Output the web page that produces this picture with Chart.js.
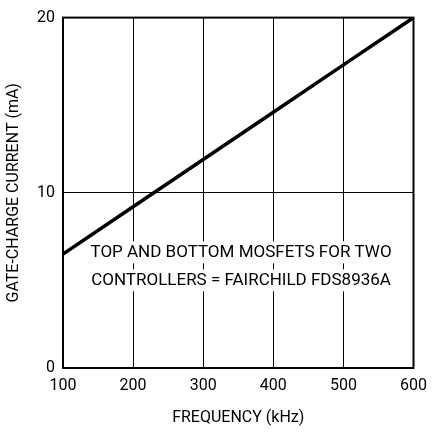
<!DOCTYPE html>
<html><head><meta charset="utf-8">
<script src="https://cdn.jsdelivr.net/npm/chart.js@4"></script>
<style>html,body{margin:0;padding:0;background:#fff}#wrap{width:435px;height:432px}</style>
</head><body><div id="wrap"><canvas id="c"></canvas></div>
<script>
const freqs = [100, 200, 300, 400, 500, 600];
const current = [6.5, 9.2, 11.9, 14.6, 17.3, 20];
const noteLines = ['TOP AND BOTTOM MOSFETS FOR TWO', 'CONTROLLERS = FAIRCHILD FDS8936A'];

const font = {family: 'Roboto, "Liberation Sans", sans-serif', size: 16};

const notePlugin = {
  id: 'note',
  afterDraw(chart) {
    const ctx = chart.ctx, x = chart.scales.x, y = chart.scales.y;
    ctx.save();
    ctx.font = '17px Roboto, "Liberation Sans", sans-serif';
    ctx.textBaseline = 'middle';
    ctx.textAlign = 'center';
    const cx = (x.getPixelForValue(112) + x.getPixelForValue(596)) / 2;
    const rows = [y.getPixelForValue(6.6), y.getPixelForValue(5.0)];
    noteLines.forEach((t, i) => {
      const w = ctx.measureText(t).width;
      ctx.fillStyle = '#fff';
      ctx.fillRect(cx - w / 2 - 3, rows[i] - 11, w + 6, 22);
      ctx.fillStyle = '#000';
      ctx.fillText(t, cx, rows[i]);
    });
    ctx.restore();
  }
};

new Chart(document.getElementById('c'), {
  type: 'line',
  data: {datasets: [{
    data: freqs.map((f, i) => ({x: f, y: current[i]})),
    borderColor: '#000', borderWidth: 3.5, pointRadius: 0, tension: 0
  }]},
  options: {
    responsive: true, maintainAspectRatio: false, animation: false,
    layout: {padding: {top: 0, right: 20, left: 0, bottom: 0}},
    plugins: {legend: {display: false}, tooltip: {enabled: false}},
    scales: {
      x: {
        type: 'linear', min: 100, max: 600,
        ticks: {stepSize: 100, color: '#000', font: font, padding: 8},
        grid: {color: '#000', lineWidth: 1, drawTicks: false},
        border: {color: '#000', width: 2},
        title: {display: true, text: 'FREQUENCY (kHz)', color: '#000', font: font, padding: {top: 8}},
        afterFit(s) { s.height = 64; }
      },
      y: {
        min: 0, max: 20,
        ticks: {stepSize: 10, color: '#000', font: font, padding: 8},
        grid: {color: '#000', lineWidth: 1, drawTicks: false},
        border: {color: '#000', width: 2},
        title: {display: true, text: 'GATE-CHARGE CURRENT (mA)', color: '#000', font: font, padding: {bottom: 4}},
        afterFit(s) { s.width = 63; }
      }
    }
  },
  plugins: [notePlugin, {
    id: 'frame',
    afterDraw(chart) {
      const a = chart.chartArea, ctx = chart.ctx;
      ctx.save(); ctx.strokeStyle = '#000'; ctx.lineWidth = 2;
      ctx.strokeRect(a.left, a.top, a.right - a.left, a.bottom - a.top);
      ctx.restore();
    }
  }]
});
</script></body></html>
